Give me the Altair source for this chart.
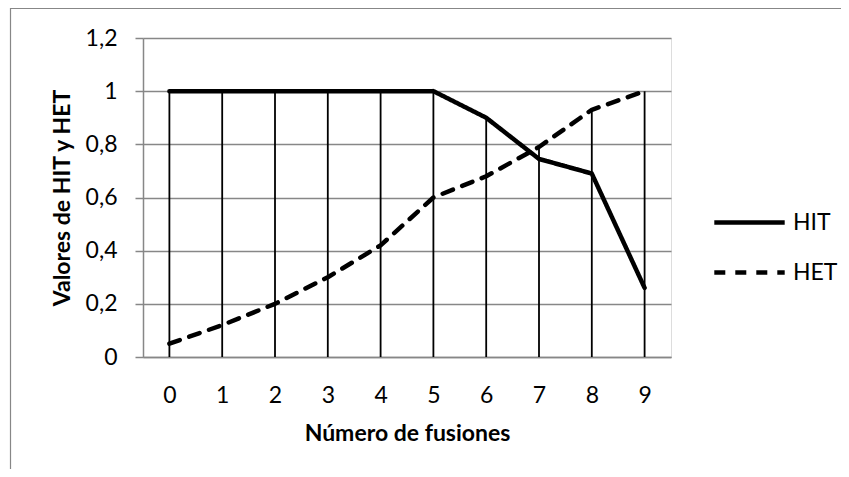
import altair as alt
import pandas as pd

fusiones = list(range(10))
hit = [1, 1, 1, 1, 1, 1, 0.9, 0.745, 0.69, 0.26]
het = [0.05, 0.12, 0.2, 0.3, 0.42, 0.6, 0.68, 0.79, 0.93, 1.0]
series = ["HIT", "HET"]
y_ticks = [0, 0.2, 0.4, 0.6, 0.8, 1.0, 1.2]

FONT = "Lato"
GRAY = "#878787"

long = pd.DataFrame({
    "x": fusiones * 2,
    "serie": ["HIT"] * len(hit) + ["HET"] * len(het),
    "valor": hit + het,
})
drop = pd.DataFrame({"x": fusiones, "top": [max(a, b) for a, b in zip(hit, het)]})

x_scale = alt.Scale(type="point", padding=0.5, domain=fusiones)
y_scale = alt.Scale(domain=[0, 1.2], nice=False, zero=True)

x_axis = alt.Axis(
    title="Número de fusiones", labelAngle=0, ticks=False, grid=False,
    domainColor=GRAY, domainWidth=1.5, labelFont=FONT, labelFontSize=23,
    labelColor="black", labelPadding=27, titleFont=FONT, titleFontSize=23,
    titleFontWeight="bold", titleColor="black", titlePadding=15,
)
y_axis = alt.Axis(
    title="Valores de HIT y HET", values=y_ticks,
    labelExpr="replace(format(datum.value, '~g'), '.', ',')",
    grid=True, gridColor=GRAY, gridWidth=1.5, domainColor=GRAY, domainWidth=1.5,
    tickColor=GRAY, tickSize=8, tickWidth=1.5, labelFont=FONT, labelFontSize=23,
    labelColor="black", labelPadding=18, titleFont=FONT, titleFontSize=23,
    titleFontWeight="bold", titleColor="black", titlePadding=11,
)

rules = alt.Chart(drop).mark_rule(color="black", strokeWidth=1.8).encode(
    x=alt.X("x:O", scale=x_scale, axis=x_axis),
    y=alt.Y("top:Q", scale=y_scale, axis=y_axis),
    y2=alt.datum(0),
)

lines = alt.Chart(long).mark_line(
    color="black", strokeWidth=4.5, strokeCap="round", strokeJoin="round"
).encode(
    x=alt.X("x:O", scale=x_scale),
    y=alt.Y("valor:Q", scale=y_scale),
    strokeDash=alt.StrokeDash(
        "serie:N",
        scale=alt.Scale(domain=series, range=[[1, 0], [11, 10]]),
        sort=series,
        legend=alt.Legend(
            title=None, orient="none", legendX=593, legendY=171, padding=0,
            symbolType="M-3.2,0H3.2", symbolSize=484, symbolStrokeWidth=4.5,
            symbolStrokeColor="black", labelFont=FONT, labelFontSize=23,
            labelColor="black", labelOffset=30, rowPadding=24,
        ),
    ),
)

frame_top = alt.Chart().mark_rule(color=GRAY, strokeWidth=1.2).encode(
    x=alt.value(-133), x2=alt.value(720), y=alt.value(-29.5)
)
frame_left = alt.Chart().mark_rule(color=GRAY, strokeWidth=1.2).encode(
    x=alt.value(-132.5), y=alt.value(-30), y2=alt.value(460)
)

chart = alt.layer(frame_top, frame_left, rules, lines).properties(
    width=528, height=319,
    autosize=alt.AutoSizeParams(type="none"),
    padding={"left": 135, "top": 30, "right": 170, "bottom": 112},
).configure_view(stroke=None).configure(background="white")

chart.save("out.html", embed_options={"renderer": "svg", "actions": False})
